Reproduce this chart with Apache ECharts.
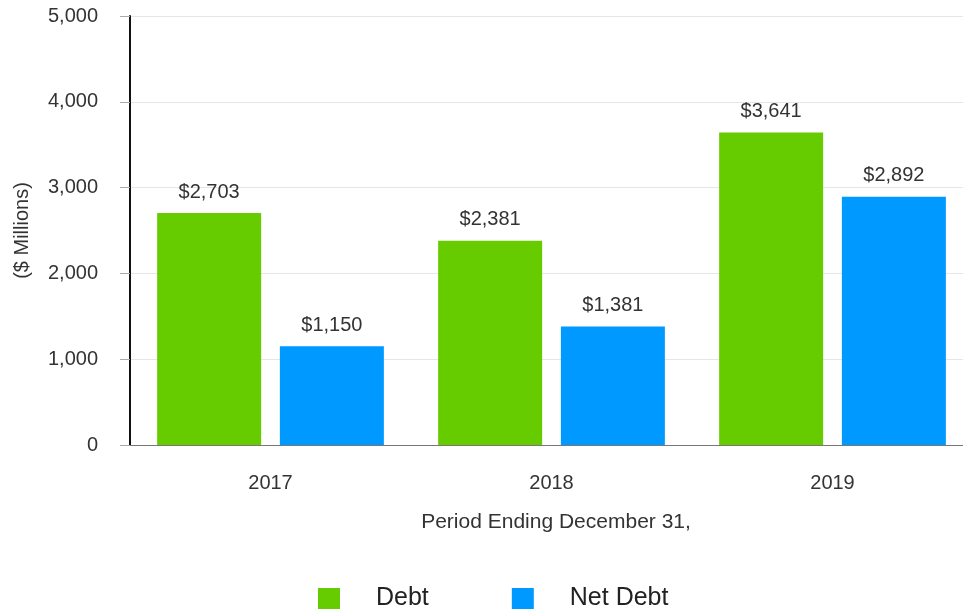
<!DOCTYPE html>
<html>
<head>
<meta charset="utf-8">
<script src="https://cdn.jsdelivr.net/npm/echarts@6/dist/echarts.min.js"></script>
<style>
  html, body { margin: 0; padding: 0; background: #fff; }
  #chart { width: 963px; height: 613px; }
</style>
</head>
<body>
<div id="chart"></div>
<script>
const years = ["2017", "2018", "2019"];
const debt = [2703, 2381, 3641];
const netDebt = [1150, 1381, 2892];
const yTicks = [0, 1000, 2000, 3000, 4000, 5000];

const fmt = v => "$" + v.toLocaleString("en-US");
const font = "Liberation Sans, Arial, sans-serif";

const chart = echarts.init(document.getElementById("chart"));

const labelCfg = {
  show: true,
  position: "top",
  distance: 11,
  color: "#333",
  fontSize: 20,
  fontFamily: font,
  formatter: p => fmt(p.value)
};

chart.setOption({
  animation: false,
  textStyle: { fontFamily: font },
  grid: {
    left: 130, top: 16, right: -10, height: 429,
    containLabel: false, outerBoundsMode: "none"
  },
  legend: {
    top: 581,
    left: 313,
    itemWidth: 22,
    itemHeight: 21,
    itemGap: 83,
    icon: "rect",
    textStyle: { fontSize: 25, color: "#222", padding: [0, 0, 0, 31] },
    data: ["Debt", "Net Debt"]
  },
  xAxis: {
    type: "category",
    data: years,
    name: "Period Ending December 31,",
    nameLocation: "middle",
    nameGap: 67,
    nameTextStyle: { fontSize: 21, color: "#333", padding: [0, 0, 0, 9] },
    axisLine: { lineStyle: { color: "#777", width: 1 } },
    axisTick: { alignWithLabel: true, length: 8, lineStyle: { color: "#777" } },
    axisLabel: { fontSize: 20, color: "#333", margin: 28 }
  },
  yAxis: {
    type: "value",
    min: yTicks[0],
    max: yTicks[yTicks.length - 1],
    interval: 1000,
    name: "($ Millions)",
    nameLocation: "middle",
    nameRotate: 90,
    nameGap: 98,
    nameTextStyle: { fontSize: 20, color: "#333" },
    axisLine: { show: true, lineStyle: { color: "#111", width: 2 } },
    axisTick: { show: true, length: 10, lineStyle: { color: "#aaa" } },
    axisLabel: {
      fontSize: 20,
      color: "#333",
      margin: 32,
      formatter: v => v.toLocaleString("en-US")
    },
    splitLine: { lineStyle: { color: "#e6e6e6" } }
  },
  series: [
    {
      name: "Debt",
      type: "bar",
      data: debt,
      barWidth: 104,
      barGap: "18%",
      itemStyle: { color: "#66cc00" },
      label: labelCfg
    },
    {
      name: "Net Debt",
      type: "bar",
      data: netDebt,
      barWidth: 104,
      itemStyle: { color: "#0099ff" },
      label: labelCfg
    }
  ]
});
</script>
</body>
</html>
